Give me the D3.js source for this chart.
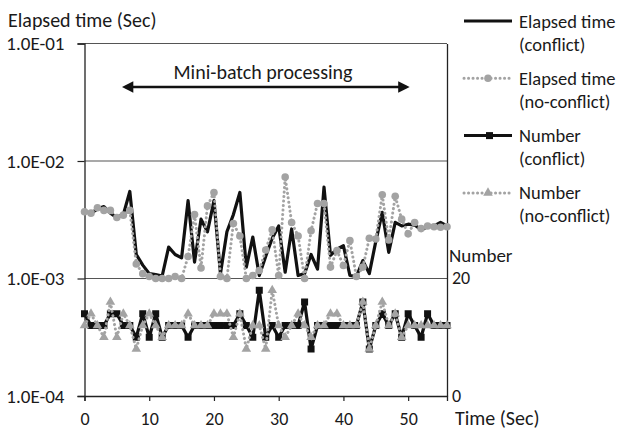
<!DOCTYPE html>
<html lang="en">
  <head>
    <meta charset="UTF-8" />
    <title>Elapsed time</title>
    <script src="https://d3js.org/d3.v7.min.js"></script>
    <style>
      body { margin: 0; background: #fff; }
      text { font-family: Carlito, Lato, "Open Sans", sans-serif; fill: #1a1a1a; }
    </style>
  </head>
  <body>
    <script>
      // data, one point per second
      var timeSec = [0, 1, 2, 3, 4, 5, 6, 7, 8, 9, 10, 11, 12, 13, 14, 15, 16, 17, 18, 19,
        20, 21, 22, 23, 24, 25, 26, 27, 28, 29, 30, 31, 32, 33, 34, 35, 36, 37, 38, 39,
        40, 41, 42, 43, 44, 45, 46, 47, 48, 49, 50, 51, 52, 53, 54, 55, 56];

      // elapsed time in seconds
      var elapsedConflict = [3.7e-3, 3.6e-3, 3.9e-3, 4.1e-3, 3.6e-3, 3.3e-3, 3.5e-3, 5.5e-3, 1.6e-3, 1.3e-3,
        1.1e-3, 1.08e-3, 1.05e-3, 1.85e-3, 1.6e-3, 1.5e-3, 4.6e-3, 1.38e-3, 3.2e-3, 2.5e-3,
        4.6e-3, 1.1e-3, 2.5e-3, 3.5e-3, 5.4e-3, 1.25e-3, 2.25e-3, 1.06e-3, 1.55e-3, 2.2e-3,
        2.8e-3, 1.13e-3, 2.64e-3, 1.06e-3, 1.1e-3, 1.6e-3, 1.2e-3, 6.0e-3, 1.57e-3, 1.78e-3,
        1.9e-3, 1.06e-3, 1.04e-3, 1.42e-3, 1.1e-3, 2.07e-3, 3.65e-3, 1.67e-3, 3.0e-3, 2.8e-3,
        2.9e-3, 2.85e-3, 2.6e-3, 2.75e-3, 2.8e-3, 3.0e-3, 2.8e-3];
      var elapsedNoConflict = [3.7e-3, 3.6e-3, 4.0e-3, 3.8e-3, 3.8e-3, 3.3e-3, 3.46e-3, 3.8e-3, 1.33e-3, 1.1e-3,
        1.04e-3, 1.0e-3, 1.0e-3, 1.0e-3, 1.04e-3, 1.0e-3, 1.54e-3, 3.5e-3, 1.23e-3, 4.15e-3,
        5.4e-3, 1.04e-3, 1.0e-3, 2.94e-3, 2.3e-3, 1.0e-3, 1.06e-3, 1.17e-3, 1.75e-3, 2.6e-3,
        1.06e-3, 7.3e-3, 3.0e-3, 2.3e-3, 1.0e-3, 2.55e-3, 4.35e-3, 4.35e-3, 1.25e-3, 1.73e-3,
        1.29e-3, 2.1e-3, 1.04e-3, 1.25e-3, 2.2e-3, 2.17e-3, 5.15e-3, 2.13e-3, 5.0e-3, 3.2e-3,
        2.4e-3, 3.0e-3, 2.66e-3, 2.8e-3, 2.76e-3, 2.73e-3, 2.76e-3];

      // number of transactions (right axis)
      var numberConflict = [14, 12, 12, 12, 14, 14, 12, 12, 10, 14,
        10, 14, 10, 12, 12, 12, 10, 12, 12, 12,
        12, 12, 12, 12, 14, 12, 10, 18, 10, 12,
        10, 12, 12, 12, 16, 8, 12, 12, 12, 12,
        12, 12, 12, 16, 8, 12, 14, 12, 14, 10,
        14, 12, 10, 14, 12, 12, 12];
      var numberNoConflict = [12, 14, 12, 10, 16, 10, 14, 12, 8, 12,
        14, 12, 10, 12, 12, 12, 14, 12, 12, 12,
        14, 14, 14, 10, 14, 8, 12, 12, 8, 18,
        12, 10, 12, 14, 12, 10, 12, 12, 14, 14,
        12, 12, 12, 16, 8, 12, 16, 12, 14, 10,
        12, 12, 12, 12, 12, 12, 12];

      var xTicks = [0, 10, 20, 30, 40, 50];
      var yTicks = [1e-4, 1e-3, 1e-2, 1e-1];
      var yTickLabels = ["1.0E-04", "1.0E-03", "1.0E-02", "1.0E-01"];
      var rightTicks = [0, 20];

      var legendItems = [
        { lines: ["Elapsed time", "(conflict)"], kind: "blackLine" },
        { lines: ["Elapsed time", "(no-conflict)"], kind: "greyCircle" },
        { lines: ["Number", "(conflict)"], kind: "blackSquare" },
        { lines: ["Number", "(no-conflict)"], kind: "greyTriangle" },
      ];

      var W = 622, H = 432;
      var plotL = 84.5, plotR = 447, plotT = 43.5, plotB = 396;
      var grey = "#a3a3a3";
      var font = "Carlito, Lato, sans-serif";

      var svg = d3.select("body").append("svg").attr("width", W).attr("height", H);

      var x = d3.scaleLinear().domain([0, 56]).range([plotL, plotR]);
      var y = d3.scaleLog().domain([1e-4, 1e-1]).range([plotB, plotT]);
      var y2 = d3.scaleLinear().domain([0, 60]).range([plotB, plotT]);

      // gridlines
      svg.append("g")
        .selectAll("line")
        .data(yTicks.slice(1))
        .enter()
        .append("line")
        .attr("x1", plotL).attr("x2", plotR)
        .attr("y1", function (d) { return y(d); })
        .attr("y2", function (d) { return y(d); })
        .attr("stroke", "#555")
        .attr("stroke-width", 1.2);

      // left axis
      var yAxis = svg.append("g")
        .attr("transform", "translate(" + plotL + ",0)")
        .call(d3.axisLeft(y).tickValues(yTicks).tickSize(7).tickPadding(13)
          .tickFormat(function (d, i) { return yTickLabels[i]; }));
      yAxis.select(".domain").attr("stroke", "#222").attr("stroke-width", 1.3);
      yAxis.selectAll(".tick line").attr("stroke", "#222").attr("stroke-width", 1.2);
      yAxis.selectAll("text").style("font-size", "19px").attr("fill", "#1a1a1a")
        .style("font-family", font);

      // bottom axis
      var xAxis = svg.append("g")
        .attr("transform", "translate(0," + plotB + ")")
        .call(d3.axisBottom(x).tickValues(xTicks).tickSize(5).tickPadding(11).tickFormat(d3.format("d")));
      xAxis.select(".domain").attr("stroke", "#222").attr("stroke-width", 1.3);
      xAxis.selectAll(".tick line").attr("stroke", "#222").attr("stroke-width", 1.2);
      xAxis.selectAll("text").style("font-size", "18px").attr("fill", "#1a1a1a")
        .style("font-family", font);

      // right axis
      var rAxis = svg.append("g")
        .attr("transform", "translate(" + plotR + ",0)")
        .call(d3.axisRight(y2).tickValues(rightTicks).tickSize(0).tickPadding(5));
      rAxis.select(".domain").attr("stroke", "#222").attr("stroke-width", 1.3);
      rAxis.selectAll("text").style("font-size", "18px").attr("fill", "#1a1a1a")
        .attr("dy", "0.3em")
        .style("font-family", font);

      // axis titles
      svg.append("text").attr("x", 8).attr("y", 27).style("font-size", "20px").text("Elapsed time (Sec)");
      svg.append("text").attr("x", 449).attr("y", 262).style("font-size", "19px").text("Number");
      svg.append("text").attr("x", 455).attr("y", 425).style("font-size", "20px").text("Time (Sec)");

      // annotation
      svg.append("text").attr("x", 263).attr("y", 79).attr("text-anchor", "middle")
        .style("font-size", "20px").text("Mini-batch processing");
      var defs = svg.append("defs");
      defs.append("marker").attr("id", "head").attr("viewBox", "0 0 10 10")
        .attr("refX", 7).attr("refY", 5).attr("markerWidth", 4.6).attr("markerHeight", 4.4)
        .attr("markerUnits", "strokeWidth").attr("orient", "auto-start-reverse")
        .append("path").attr("d", "M0,0L10,5L0,10Z").attr("fill", "#111");
      svg.append("line")
        .attr("x1", x(6.3)).attr("x2", x(49.7)).attr("y1", 87).attr("y2", 87)
        .attr("stroke", "#111").attr("stroke-width", 2.6)
        .attr("marker-start", "url(#head)").attr("marker-end", "url(#head)");

      var rows = timeSec.map(function (t, i) {
        return { t: t, ec: elapsedConflict[i], en: elapsedNoConflict[i], nc: numberConflict[i], nn: numberNoConflict[i] };
      });

      function drawLine(key, scale, color, width, dotted) {
        var line = d3.line()
          .x(function (d) { return x(d.t); })
          .y(function (d) { return scale(d[key]); });
        var p = svg.append("path").datum(rows).attr("d", line)
          .attr("fill", "none").attr("stroke", color).attr("stroke-width", width)
          .attr("stroke-linejoin", "round");
        if (dotted) p.attr("stroke-dasharray", "0.1 4.4").attr("stroke-linecap", "round");
      }

      var tri = d3.symbol().type(d3.symbolTriangle).size(40);

      // elapsed time (conflict)
      drawLine("ec", y, "#111", 3.2, false);
      // elapsed time (no-conflict)
      drawLine("en", y, grey, 3, true);
      svg.append("g").selectAll("circle").data(rows).enter().append("circle")
        .attr("cx", function (d) { return x(d.t); })
        .attr("cy", function (d) { return y(d.en); })
        .attr("r", 3.8).attr("fill", grey);
      // number (conflict)
      drawLine("nc", y2, "#111", 3.2, false);
      svg.append("g").selectAll("rect").data(rows).enter().append("rect")
        .attr("x", function (d) { return x(d.t) - 3.5; })
        .attr("y", function (d) { return y2(d.nc) - 3.5; })
        .attr("width", 7).attr("height", 7).attr("fill", "#111");
      // number (no-conflict)
      drawLine("nn", y2, grey, 3, true);
      svg.append("g").selectAll("path.tri").data(rows).enter().append("path")
        .attr("class", "tri")
        .attr("d", tri)
        .attr("transform", function (d) { return "translate(" + x(d.t) + "," + y2(d.nn) + ")"; })
        .attr("fill", grey);

      // legend
      var lg = svg.append("g").selectAll("g").data(legendItems).enter().append("g")
        .attr("transform", function (d, i) { return "translate(0," + (21 + i * 57.3) + ")"; });
      lg.each(function (d) {
        var g = d3.select(this);
        var black = d.kind === "blackLine" || d.kind === "blackSquare";
        var ln = g.append("line").attr("x1", 464).attr("x2", 512).attr("y1", 0).attr("y2", 0)
          .attr("stroke", black ? "#111" : grey).attr("stroke-width", 3);
        if (!black) ln.attr("stroke-dasharray", "0.1 4.4").attr("stroke-linecap", "round");
        if (d.kind === "greyCircle") g.append("circle").attr("cx", 488).attr("cy", 0).attr("r", 3.8).attr("fill", grey);
        if (d.kind === "blackSquare") g.append("rect").attr("x", 486).attr("y", -3.5).attr("width", 7).attr("height", 7).attr("fill", "#111");
        if (d.kind === "greyTriangle") g.append("path").attr("d", tri).attr("transform", "translate(488,0)").attr("fill", grey);
        g.selectAll("text").data(d.lines).enter().append("text")
          .attr("x", 519).attr("y", function (t, j) { return 6.5 + j * 23; })
          .style("font-size", "18.5px").text(function (t) { return t; });
      });
    </script>
  </body>
</html>
